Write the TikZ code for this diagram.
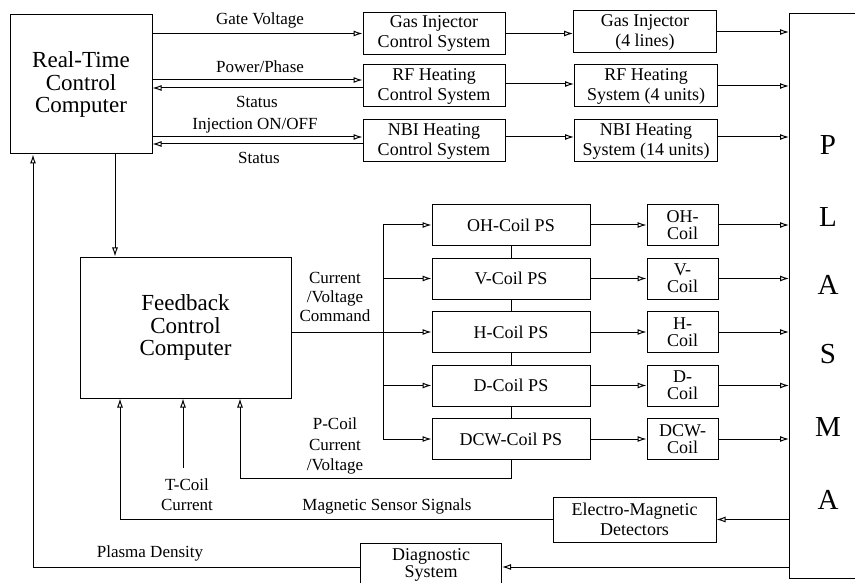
\documentclass[tikz,border=0pt]{standalone}
\usepackage{fontspec}
\setmainfont{Liberation Serif}
\usepackage{tikz}
\usetikzlibrary{arrows.meta,positioning}
\tikzset{
  ctlbox/.style={draw,line width=1pt,inner sep=2pt,align=center,font=\fontsize{18}{20}\selectfont,minimum height=42pt},
  ctlbig/.style={draw,line width=1pt,inner sep=2pt,align=center,font=\fontsize{23}{22.5}\selectfont},
  ctlps/.style={ctlbox,minimum width=158pt,minimum height=41pt},
  ctlcoil/.style={ctlbox,minimum width=71pt,minimum height=41pt,font=\fontsize{18}{17}\selectfont},
  ctlflow/.style={-{Latex[open,length=9pt,width=6pt]},line width=1pt},
  ctlline/.style={line width=1pt},
  ctllabel/.style={font=\fontsize{17}{20}\selectfont,align=center,inner sep=1pt},
  ctlletter/.style={font=\fontsize{29}{29}\selectfont,inner sep=0pt},
}

\begin{document}
\begin{tikzpicture}[x=1pt,y=-1pt,node distance=11.5pt and 56pt]
\useasboundingbox (0,0) rectangle (855,583);
\node[ctlbig,minimum width=142pt,minimum height=139pt] (rt) at (81,84.5) {Real-Time\\Control\\Computer};
\node[ctlbox,minimum width=142pt] (gc) at (434,33.5) {Gas Injector\\Control System};
\node[ctlbox,minimum width=142pt] (rc) at (434,86) {RF Heating\\Control System};
\node[ctlbox,minimum width=142pt] (nc) at (434,141) {NBI Heating\\Control System};
\node[ctlbox,minimum width=143pt] (gs) at (645,32) {Gas Injector\\(4 lines)};
\node[ctlbox,minimum width=143pt] (rs) at (646,86) {RF Heating\\System (4 units)};
\node[ctlbox,minimum width=143pt] (ns) at (646,141) {NBI Heating\\System (14 units)};
\node[draw,line width=1pt,minimum width=100pt,minimum height=565pt,anchor=north west] (pl) at (789,13) {};
\foreach \ch/\yy [count=\i] in {P/145,L/217,A/285,S/354,M/427,A/500}
  \node[ctlletter] (let\i) at (828,\yy) {\ch};

\node[ctllabel] (lgv) at (260,20) {Gate Voltage};
\node[ctllabel] (lpp) at (260,67) {Power/Phase};
\node[ctllabel] (lst1) at (257,102) {Status};
\node[ctllabel] (lin) at (255,126) {Injection ON/OFF};
\node[ctllabel] (lst2) at (259,158) {Status};
\draw[ctlflow] (rt.east |- gc) -- (gc.west);
\draw[ctlflow] (rt.east |- 0,80) -- (rc.west |- 0,80);\draw[ctlflow] (rc.west |- 0,88) -- (rt.east |- 0,88);
\draw[ctlflow] (rt.east |- 0,137) -- (nc.west |- 0,137);\draw[ctlflow] (nc.west |- 0,144) -- (rt.east |- 0,144);
\draw[ctlflow] (gc.east) -- (gc.east -| gs.west);\draw[ctlflow] (rc.east |- 0,84) -- (rs.west |- 0,84);\draw[ctlflow] (nc.east |- 0,137) -- (ns.west |- 0,137);
\draw[ctlflow] (gs.east) -- (gs.east -| pl.west);\draw[ctlflow] (rs.east) -- (rs.east -| pl.west);\draw[ctlflow] (ns.east |- 0,137) -- (pl.west |- 0,137);

\node[ctlbig,minimum width=211pt,minimum height=141pt] (fb) at (185.5,327.5) {Feedback\\Control\\Computer};
\draw[ctlflow] (rt.south -| 115,0) -- (fb.north -| 115,0);

\node[ctlps] (ohps) at (511,225) {OH-Coil PS};
\node[ctlps,below=of ohps] (vps) {V-Coil PS};
\node[ctlps,below=of vps] (hps) {H-Coil PS};
\node[ctlps,below=of hps] (dps) {D-Coil PS};
\node[ctlps,below=of dps] (dcwps) {DCW-Coil PS};
\node[ctlcoil,right=of ohps] (ohc) {OH-\\Coil};
\node[ctlcoil,right=of vps] (vc) {V-\\Coil};
\node[ctlcoil,right=of hps] (hc) {H-\\Coil};
\node[ctlcoil,right=of dps] (dc) {D-\\Coil};
\node[ctlcoil,right=of dcwps] (dcwc) {DCW-\\Coil};

\coordinate (bus) at (383,0);
\draw[ctlline] (bus |- ohps) -- (bus |- dcwps);
\draw[ctlflow] (fb.east |- hps) -- (hps.west);
\foreach \n in {ohps,vps,dps,dcwps} \draw[ctlflow] (bus |- \n) -- (\n.west);
\foreach \a/\b in {ohps/vps,vps/hps,hps/dps,dps/dcwps} \draw[ctlline] (\a.south) -- (\b.north);
\foreach \a/\b in {ohps/ohc,vps/vc,hps/hc,dps/dc,dcwps/dcwc} {
  \draw[ctlflow] (\a.east) -- (\b.west);
  \draw[ctlflow] (\b.east) -- (\b.east -| pl.west);
}
\node[ctllabel,font=\fontsize{17}{19}\selectfont] (lcv) at (335,297) {Current\\/Voltage\\Command};

\coordinate (pcl) at (240,478);
\draw[ctlflow] (dcwps.south) |- (pcl) -- (pcl |- fb.south);
\node[ctllabel,font=\fontsize{17}{20.5}\selectfont] (lpc) at (335,446) {P-Coil\\Current\\/Voltage};
\coordinate (tcl) at (183,468);
\draw[ctlflow] (tcl) -- (tcl |- fb.south);
\node[ctllabel] (ltc) at (187,495) {T-Coil\\Current};

\node[ctlbox,minimum width=163pt,minimum height=45pt] (em) at (634.5,519.5) {Electro-Magnetic\\Detectors};
\draw[ctlflow] (em.east -| pl.west) -- (em.east);
\coordinate (msl) at (120,0);
\draw[ctlflow] (em.west) -- (msl |- em.west) -- (msl |- fb.south);
\node[ctllabel] (lms) at (387,506) {Magnetic Sensor Signals};

\node[ctlbox,minimum width=141pt,minimum height=43pt,anchor=north,font=\fontsize{18}{17.5}\selectfont] (dg) at (431,543) {Diagnostic\\System};
\draw[ctlflow] (pl.west |- 0,567) -- (dg.east |- 0,567);
\coordinate (pdl) at (33,0);
\draw[ctlflow] (dg.west |- 0,567) -- (pdl |- 0,567) -- (pdl |- rt.south);
\node[ctllabel] (lpd) at (150,553) {Plasma Density};
\end{tikzpicture}
\end{document}
